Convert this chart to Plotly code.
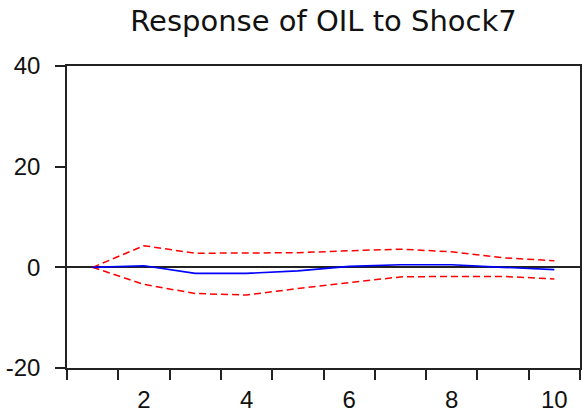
import plotly.graph_objects as go

periods = [1, 2, 3, 4, 5, 6, 7, 8, 9, 10]
response = [0.0, 0.3, -1.2, -1.2, -0.7, 0.2, 0.5, 0.5, 0.0, -0.45]
upper = [0.0, 4.3, 2.8, 2.8, 2.9, 3.3, 3.6, 3.1, 1.9, 1.3]
lower = [0.0, -3.4, -5.2, -5.5, -4.2, -3.0, -1.9, -1.8, -1.8, -2.3]

x_labels = [2, 4, 6, 8, 10]
x_tick_marks = [0.5, 1.5, 2.5, 3.5, 4.5, 5.5, 6.5, 7.5, 8.5, 9.5, 10.5]
y_ticks = [-20, 0, 20, 40]
y_tick_text = ["-20", "0", "20", "40"]

fig = go.Figure()
fig.add_trace(go.Scatter(x=periods, y=upper, mode="lines",
                         line=dict(color="#FF0000", width=1.5, dash="7px,4px"),
                         showlegend=False))
fig.add_trace(go.Scatter(x=periods, y=lower, mode="lines",
                         line=dict(color="#FF0000", width=1.5, dash="7px,4px"),
                         showlegend=False))
fig.add_trace(go.Scatter(x=periods, y=response, mode="lines",
                         line=dict(color="#0000FF", width=1.6),
                         showlegend=False))

axis_color = "#222222"
fig.update_layout(
    width=587, height=418,
    margin=dict(l=67, r=5, t=66, b=44),
    paper_bgcolor="white", plot_bgcolor="white",
    title=dict(text="Response of OIL to Shock7", xref="paper", x=0.5,
               xanchor="center", yref="container", y=1 - 21 / 418,
               yanchor="middle",
               font=dict(family="DejaVu Sans", size=29, color="#111111")),
    font=dict(family="Liberation Sans, Arial", size=24, color="#111111"),
)
fig.update_xaxes(
    range=[0.5, 10.5], tickvals=x_labels, ticktext=[str(v) for v in x_labels],
    ticks="outside", ticklen=0, tickcolor=axis_color,
    minor=dict(tickvals=x_tick_marks, ticks="outside", ticklen=10,
               tickwidth=1.5, tickcolor=axis_color, showgrid=False),
    showline=True, linecolor=axis_color, linewidth=1.5, mirror=True,
    showgrid=False, zeroline=False, ticklabelstandoff=9,
    tickfont=dict(family="Liberation Sans, Arial", size=24, color="#111111"),
)
fig.update_yaxes(
    range=[-20, 40], tickvals=y_ticks, ticktext=y_tick_text,
    ticks="outside", ticklen=10, tickwidth=1.5, tickcolor=axis_color,
    showline=True, linecolor=axis_color, linewidth=1.5, mirror=True,
    showgrid=False, zeroline=True, zerolinecolor=axis_color, zerolinewidth=1.5,
    ticklabelstandoff=10,
    tickfont=dict(family="Liberation Sans, Arial", size=24, color="#111111"),
)

fig.write_html("out.html")
